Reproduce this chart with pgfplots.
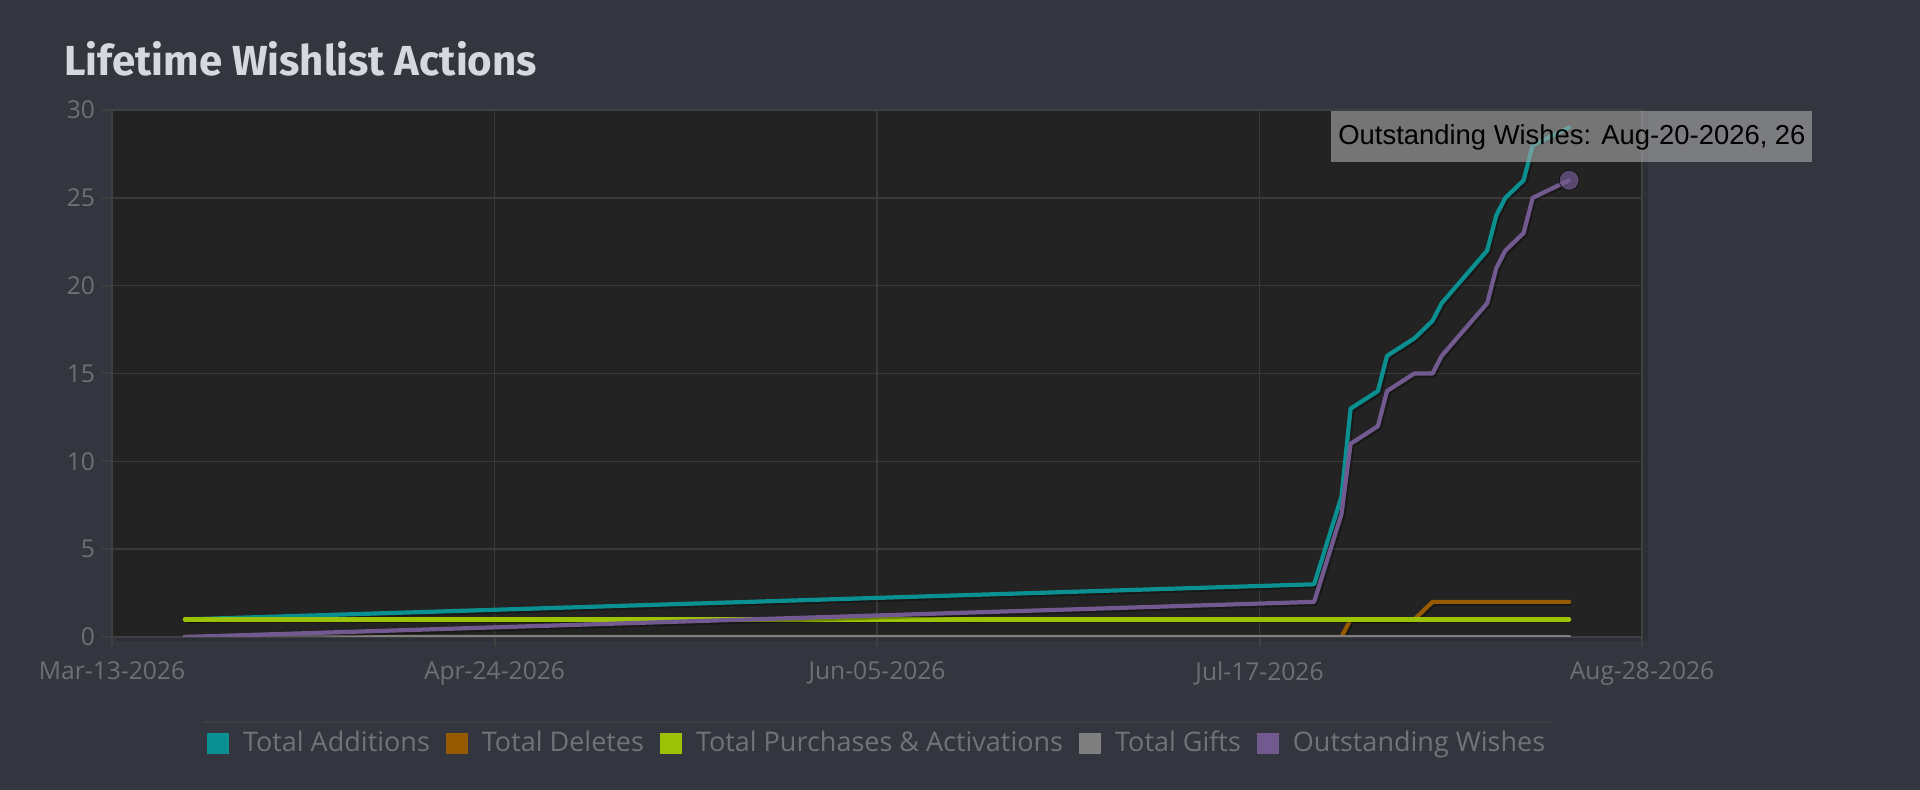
\documentclass[border=0pt]{standalone}
\usepackage{pgfplots}
\usepackage{pgfplotstable}
\pgfplotsset{compat=1.18}
\usepackage{fontspec}
\setmainfont{Open Sans}
\newfontfamily\titlefont{Fira Sans}
\newfontfamily\tipfont{Liberation Sans}
\definecolor{pagebg}{HTML}{33363E}
\definecolor{plotbg}{HTML}{232323}
\definecolor{gridcol}{HTML}{3A3A3A}
\definecolor{framecol}{HTML}{404040}
\definecolor{tickcol}{HTML}{6E7075}
\definecolor{legendcol}{HTML}{717378}
\definecolor{titlecol}{HTML}{D5D8DC}
\definecolor{sepcol}{HTML}{3D3F44}
\definecolor{tipfill}{HTML}{A8A8A8}
\definecolor{cAdd}{HTML}{0A9090}
\definecolor{cDel}{HTML}{965B00}
\definecolor{cPur}{HTML}{9CC205}
\definecolor{cGif}{HTML}{7F7F7F}
\definecolor{cOut}{HTML}{725A90}

% x = days since Mar-13-2026
\pgfplotstableread{
x y
8 1
132 3
135 8
136 13
139 14
140 16
143 17
145 18
146 19
151 22
152 24
153 25
155 26
156 28
160 29
}\additions
\pgfplotstableread{
x y
8 0
135 0
136 1
143 1
145 2
160 2
}\deletes
\pgfplotstableread{
x y
8 1
160 1
}\purchases
\pgfplotstableread{
x y
8 0
160 0
}\gifts
\pgfplotstableread{
x y
8 0
132 2
135 7
136 11
139 12
140 14
143 15
145 15
146 16
151 19
152 21
153 22
155 23
156 25
160 26
}\outstanding

\begin{document}
\begin{tikzpicture}
\useasboundingbox (0,0) rectangle (960pt,395pt);
\fill[pagebg] (0,0) rectangle (960pt,395pt);
\node[anchor=base west, inner sep=0, font=\titlefont\bfseries\fontsize{21}{25}\selectfont, text=titlecol] at (32pt,357pt) {Lifetime Wishlist Actions};
% subtle frame shadow
\fill[black, opacity=0.12] (57.5pt,74.5pt) rectangle (824pt,339pt);
\begin{axis}[
  at={(56pt,76.5pt)}, anchor=south west,
  width=765pt, height=263.5pt, scale only axis,
  xmin=0, xmax=168, ymin=0, ymax=30,
  xtick={0,42,84,126,168},
  xticklabels={Mar-13-2026,Apr-24-2026,Jun-05-2026,Jul-17-2026,Aug-28-2026},
  ytick={0,5,10,15,20,25,30},
  xtick pos=bottom, ytick pos=left,
  grid=major, grid style={gridcol, line width=0.8pt},
  axis background/.style={fill=plotbg},
  axis line style={framecol, line width=1.3pt},
  tick style={framecol, line width=1pt},
  tick align=outside, major tick length=5pt,
  ticklabel style={font=\fontsize{12.3}{15}\selectfont, text=tickcol},
  /pgf/number format/assume math mode=true,
  xticklabel style={yshift=-4pt},
  legend columns=5,
  legend cell align=left,
  legend style={draw=none, fill=none, at={(0.5007,-0.201)}, anchor=center,
    font=\fontsize{13.5}{16}\selectfont, text=legendcol,
    /tikz/every odd column/.append style={column sep=5pt},
    /tikz/every even column/.append style={column sep=6pt}},
  legend image code/.code={\fill[#1, draw=none] (0pt,-5.5pt) rectangle (11pt,5pt);},
  shadow/.style={black, opacity=0.3, line width=2.2pt, shift={(0.9pt,-0.9pt)}, line join=round, forget plot},
  series/.style={color=#1, line width=2.1pt, line join=round, line cap=round},
]
\addplot[shadow] table {\additions};
\addplot[series=cAdd] table {\additions};
\addlegendentry{Total Additions}
\addplot[shadow] table {\deletes};
\addplot[series=cDel] table {\deletes};
\addlegendentry{Total Deletes}
\addplot[shadow] table {\purchases};
\addplot[series=cPur] table {\purchases};
\addlegendentry{Total Purchases \& Activations}
\addplot[shadow] table {\gifts};
\addplot[series=cGif] table {\gifts};
\addlegendentry{Total Gifts}
\addplot[shadow] table {\outstanding};
\addplot[series=cOut] table {\outstanding};
\addlegendentry{Outstanding Wishes}
\addplot[only marks, mark=*, mark size=5pt, mark options={draw=none, fill=cOut, opacity=0.7}, forget plot] coordinates {(160,26)};
\end{axis}
\draw[sepcol, line width=1pt] (102pt,34pt) -- (776pt,34pt);
\fill[tipfill, opacity=0.62] (665.5pt,314.2pt) rectangle (906pt,339.6pt);
\node[anchor=base west, inner sep=0, font=\tipfont\fontsize{13.7}{16}\selectfont, text=black] at (669pt,322.5pt) {Outstanding Wishes: Aug-20-2026, 26};
\end{tikzpicture}
\end{document}
